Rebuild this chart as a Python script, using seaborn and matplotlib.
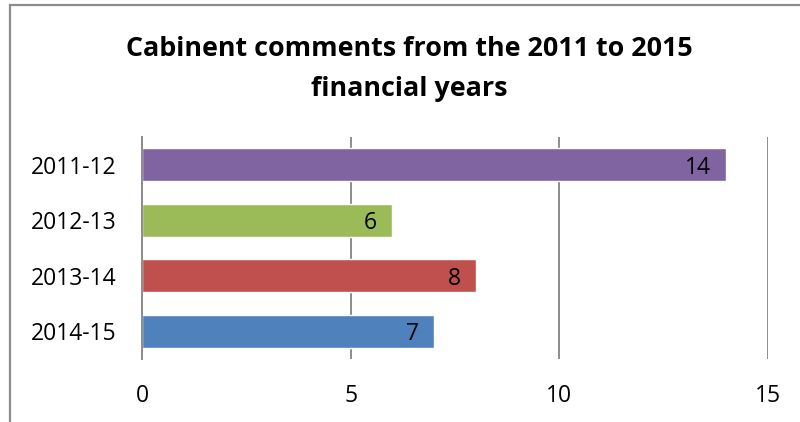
import matplotlib
matplotlib.use("Agg")
import matplotlib.pyplot as plt
import seaborn as sns
import pandas as pd
from matplotlib.patches import Rectangle

years = ["2011-12", "2012-13", "2013-14", "2014-15"]
comments = [14, 6, 8, 7]
bar_colors = ["#8064A2", "#9BBB59", "#C0504D", "#4F81BD"]
xticks = [0, 5, 10, 15]

df = pd.DataFrame({"year": years, "comments": comments})

sns.set_theme(style="white")
plt.rcParams["font.family"] = ["Open Sans", "DejaVu Sans"]
plt.rcParams["text.color"] = "black"

fig = plt.figure(figsize=(8, 4.22), dpi=100)
ax = fig.add_axes([142 / 800, 1 - 359 / 422, 626 / 800, 222 / 422])

sns.barplot(data=df, x="comments", y="year", hue="year", palette=bar_colors,
            orient="h", width=0.59, legend=False, ax=ax, saturation=1)

for cont in ax.containers:
    labels = ax.bar_label(cont, padding=-11, fontsize=16.5, color="black")
    for t in labels:
        t.set_ha("right")
        t.set_va("center_baseline")

ax.set_xlim(0, 15)
ax.set_xticks(xticks)
ax.set_xlabel("")
ax.set_ylabel("")
ax.tick_params(axis="both", labelsize=16.5, length=0, colors="black")
ax.tick_params(axis="x", pad=18)
ax.tick_params(axis="y", pad=18)
ax.grid(axis="x", color="#8c8c8c", linewidth=1.4)
ax.set_axisbelow(True)
for s in ["top", "right", "bottom"]:
    ax.spines[s].set_visible(False)
ax.spines["left"].set_color("#8c8c8c")
ax.spines["left"].set_linewidth(1.4)

# chart title, two lines like the Excel original
fig.text(0.512, 1 - 69 / 422, "Cabinent comments from the 2011 to 2015\nfinancial years",
         ha="center", va="center", fontsize=19.4, fontweight="bold", linespacing=1.65,
         color="black")

# chart area border (runs off the right and bottom edges)
fig.patches.append(Rectangle((10 / 800, -0.1), 1.2, 1.1 - 5 / 422, transform=fig.transFigure,
                             fill=False, edgecolor="#8c8c8c", linewidth=1.6))

fig.savefig("out.png", dpi=100)
